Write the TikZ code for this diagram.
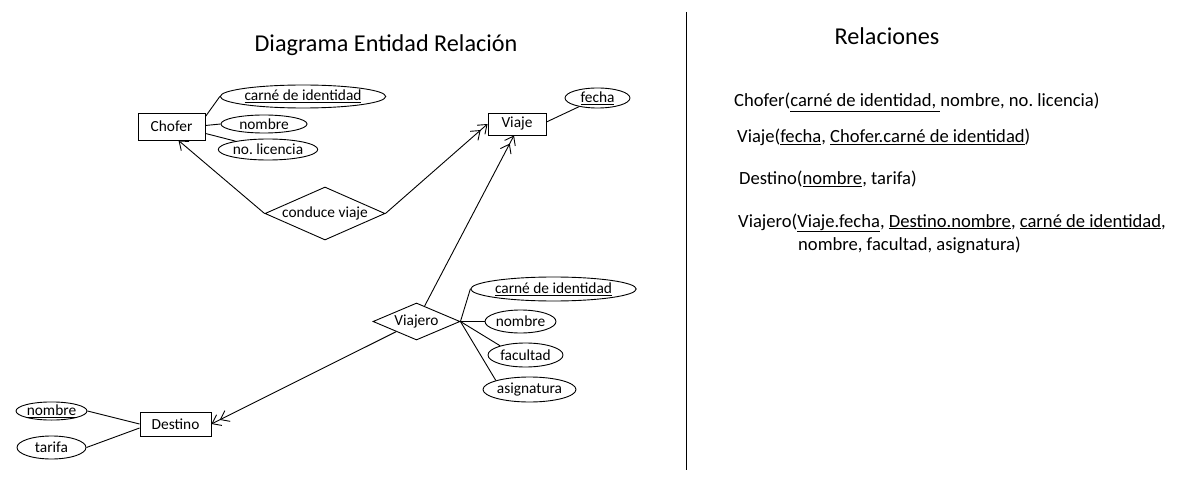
\documentclass[tikz,border=0pt]{standalone}
\usepackage{fontspec}
\setmainfont{Carlito}
\frenchspacing
\usetikzlibrary{shapes.geometric,arrows.meta,calc}
\begin{document}
\begin{tikzpicture}[x=1pt,y=-1pt,
  every node/.style={font=\fontsize{15.4}{17}\selectfont},
  ent/.style={draw,line width=0.9pt,rectangle,inner sep=0pt},
  attr/.style={draw,line width=0.9pt,ellipse,inner sep=0pt},
  rel/.style={draw,line width=0.9pt,diamond,inner sep=0pt},
  ln/.style={line width=0.9pt},
  one/.style={ln,-{Straight Barb[length=8pt,width=12pt]}},
  many/.style={ln,-{Straight Barb[length=8pt,width=12pt] Straight Barb[length=8pt,width=12pt]}},
  rtxt/.style={anchor=base west,inner sep=0pt,font=\fontsize{18.6}{22}\selectfont},
  ttl/.style={inner sep=0pt,font=\fontsize{24.2}{28}\selectfont}]
\useasboundingbox (0,0) rectangle (1200,500);
\fill[white] (0,0) rectangle (1200,500);

% titles
\node[ttl] (t1) at (386,45) {Diagrama Entidad Relación};
\node[ttl] (t2) at (887,36) {Relaciones};
\coordinate (d1) at (686,12);
\coordinate (d2) at (686,470);
\draw[ln] (d1) -- (d2);

% entities
\node[ent,minimum width=67pt,minimum height=27pt] (ch) at (171.5,126.5) {Chofer};
\node[ent,minimum width=58pt,minimum height=22pt] (vj) at (517,124) {Viaje};
\node[ent,minimum width=71pt,minimum height=24pt] (de) at (175.5,424) {Destino};

% relationships
\node[rel,aspect=2.26,minimum width=120pt,minimum height=53pt] (cv) at (325,213.5) {conduce viaje};
\node[rel,aspect=2.35,minimum width=87pt,minimum height=37pt] (vr) at (416.5,321.5) {Viajero};

% attributes of Chofer
\node[attr,minimum width=164pt,minimum height=23pt] (a1) at (303,96.5) {\underline{carné de identidad}};
\node[attr,minimum width=86pt,minimum height=18pt] (a2) at (264,124) {nombre};
\node[attr,minimum width=92pt,minimum height=21pt] (a3) at (268,149.5) {no. licencia};
\draw[ln] ($(ch.north east)+(0,4)$) -- (a1.west);
\draw[ln] ($(ch.east)+(0,-1)$) -- (a2.west);
\draw[ln] ($(ch.south east)+(0,-7)$) -- (a3);

% attribute of Viaje
\node[attr,minimum width=65pt,minimum height=20pt] (fe) at (597.5,98) {\underline{fecha}};
\draw[ln] ($(vj.east)+(0,-2)$) -- (fe);

% attributes of Viajero
\node[attr,minimum width=147pt,minimum height=24pt] (b1) at (553.5,289) {\underline{carné de identidad}};
\node[attr,minimum width=71pt,minimum height=23pt] (b2) at (520.5,321.5) {nombre};
\node[attr,minimum width=75pt,minimum height=24pt] (b3) at (525.5,355) {facultad};
\node[attr,minimum width=93pt,minimum height=25pt] (b4) at (529.5,389.5) {asignatura};
\draw[ln] (vr.east) -- (b1.west);
\draw[ln] (vr.east) -- (b2.west);
\draw[ln] (vr.east) -- (b3.160);
\draw[ln] (vr.east) -- (b4.165);

% attributes of Destino
\node[attr,minimum width=71pt,minimum height=18pt] (c1) at (51.5,411) {\underline{nombre}};
\node[attr,minimum width=69pt,minimum height=23pt] (c2) at (51.5,447.5) {tarifa};
\draw[ln] (c1.east) -- ($(de.west)+(0,0)$);
\draw[ln] (c2.east) -- ($(de.west)+(0,4)$);

% connectors
\draw[one] (cv.west) -- ($(ch.south)+(7,0)$);
\draw[many] (cv.east) -- (vj.west);
\draw[many] (vr) -- ($(vj.south)+(-3,0)$);
\draw[many] (vr) -- (de.east);

% relations text
\node[rtxt] (r1) at (734,107) {Chofer(\underline{carné de identidad, }nombre, no. licencia)};
\node[rtxt] (r2) at (737,143) {Viaje(\underline{fecha}, \underline{Chofer.carné de identidad})};
\node[rtxt] (r3) at (739,185) {Destino(\underline{nombre}, tarifa)};
\node[rtxt] (r4) at (738,227) {Viajero(\underline{Viaje.fecha}, \underline{Destino.nombre}, \underline{carné de identidad},};
\node[rtxt] (r5) at (798,250) {nombre, facultad, asignatura)};
\end{tikzpicture}
\end{document}
